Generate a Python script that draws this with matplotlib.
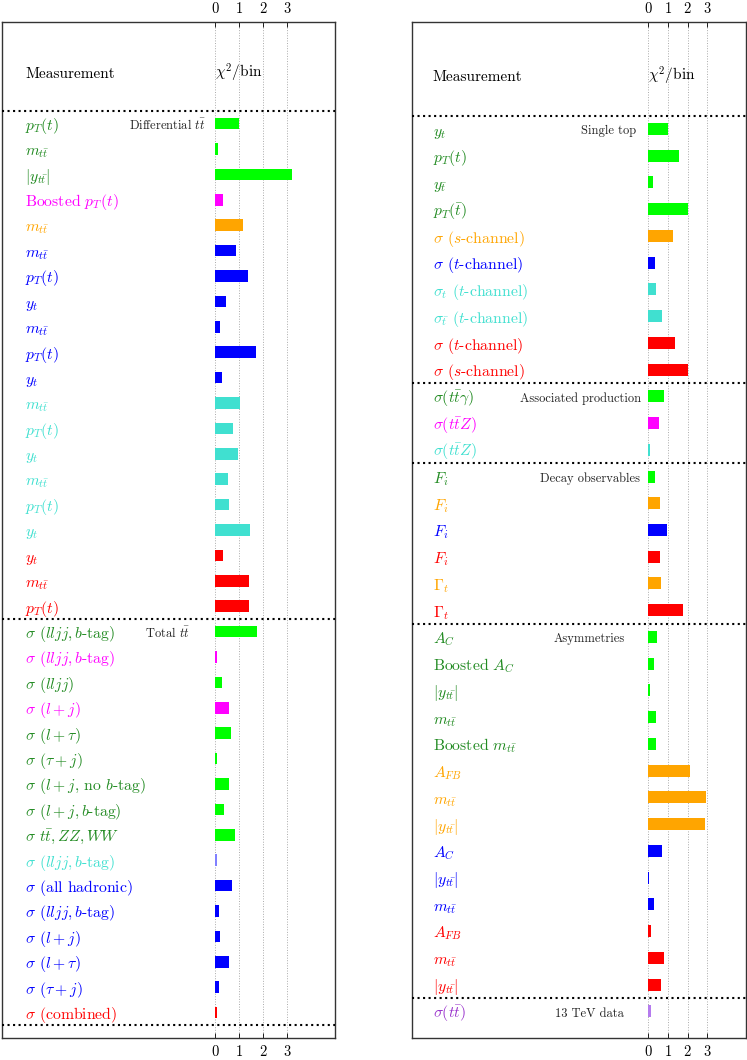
import matplotlib
matplotlib.use('Agg')
import matplotlib.pyplot as plt

plt.rcParams['font.family'] = 'serif'
plt.rcParams['font.serif'] = ['cmr10', 'DejaVu Serif']
plt.rcParams['mathtext.fontset'] = 'cm'
plt.rcParams['axes.unicode_minus'] = False
plt.rcParams['axes.formatter.use_mathtext'] = True

# label colour -> bar colour
bar_of = {'forestgreen': 'lime', 'magenta': 'magenta', 'orange': 'orange',
          'blue': 'blue', 'turquoise': 'turquoise', 'red': 'red',
          'darkorchid': '#b57bee'}

# ---- left panel data
left_labels = [r'$p_T(t)$', r'$m_{t\bar{t}}$', r'$|y_{t\bar{t}}|$', r'Boosted $p_T(t)$',
               r'$m_{t\bar{t}}$', r'$m_{t\bar{t}}$', r'$p_T(t)$', r'$y_t$',
               r'$m_{t\bar{t}}$', r'$p_T(t)$', r'$y_t$', r'$m_{t\bar{t}}$',
               r'$p_T(t)$', r'$y_t$', r'$m_{t\bar{t}}$', r'$p_T(t)$', r'$y_t$',
               r'$y_t$', r'$m_{t\bar{t}}$', r'$p_T(t)$',
               r'$\sigma$ $(lljj, b$-tag$)$', r'$\sigma$ $(lljj, b$-tag$)$', r'$\sigma$ $(lljj)$',
               r'$\sigma$ $(l+j)$', r'$\sigma$ $(l+\tau)$', r'$\sigma$ $(\tau+j)$',
               r'$\sigma$ $(l+j$, no $b$-tag$)$', r'$\sigma$ $(l+j, b$-tag$)$',
               r'$\sigma$ $t\bar{t}, ZZ, WW$', r'$\sigma$ $(lljj, b$-tag$)$',
               r'$\sigma$ (all hadronic)', r'$\sigma$ $(lljj, b$-tag$)$', r'$\sigma$ $(l+j)$',
               r'$\sigma$ $(l+\tau)$', r'$\sigma$ $(\tau+j)$', r'$\sigma$ (combined)']
left_values = [1.0, 0.1, 3.2, 0.33, 1.15, 0.87, 1.36, 0.42, 0.18, 1.71, 0.26,
               1.01, 0.72, 0.93, 0.51, 0.55, 1.46, 0.33, 1.39, 1.40,
               1.74, 0.08, 0.28, 0.58, 0.64, 0.08, 0.58, 0.37, 0.80, 0.06,
               0.71, 0.14, 0.17, 0.57, 0.14, 0.08]
left_colors = ['forestgreen'] * 3 + ['magenta', 'orange'] + ['blue'] * 6 + ['turquoise'] * 6 + ['red'] * 3 + \
              ['forestgreen', 'magenta', 'forestgreen', 'magenta'] + ['forestgreen'] * 5 + ['turquoise'] + \
              ['blue'] * 5 + ['red']
left_bars = [bar_of[c] for c in left_colors]
left_bars[29] = '#8080ff'
left_sections = [(r'Differential $t\bar{t}$', 0, -2.0), (r'Total $t\bar{t}$', 20, -2.0)]
left_seps = [-0.5, 19.5, 35.5]

# ---- right panel data
right_labels = [r'$y_t$', r'$p_T(t)$', r'$y_{\bar{t}}$', r'$p_T(\bar{t})$',
                r'$\sigma$ ($s$-channel)', r'$\sigma$ ($t$-channel)', r'$\sigma_t$ ($t$-channel)',
                r'$\sigma_{\bar{t}}$ ($t$-channel)', r'$\sigma$ ($t$-channel)', r'$\sigma$ ($s$-channel)',
                r'$\sigma(t\bar{t}\gamma)$', r'$\sigma(t\bar{t}Z)$', r'$\sigma(t\bar{t}Z)$',
                r'$F_i$', r'$F_i$', r'$F_i$', r'$F_i$', r'$\Gamma_t$', r'$\Gamma_t$',
                r'$A_C$', r'Boosted $A_C$', r'$|y_{t\bar{t}}|$', r'$m_{t\bar{t}}$', r'Boosted $m_{t\bar{t}}$',
                r'$A_{FB}$', r'$m_{t\bar{t}}$', r'$|y_{t\bar{t}}|$', r'$A_C$', r'$|y_{t\bar{t}}|$',
                r'$m_{t\bar{t}}$', r'$A_{FB}$', r'$m_{t\bar{t}}$', r'$|y_{t\bar{t}}|$', r'$\sigma(t\bar{t})$']
right_values = [1.0, 1.56, 0.24, 2.0, 1.25, 0.34, 0.39, 0.68, 1.34, 2.02,
                0.81, 0.54, 0.08, 0.34, 0.59, 0.93, 0.58, 0.66, 1.78,
                0.42, 0.27, 0.08, 0.37, 0.41, 2.14, 2.93, 2.90, 0.71, 0.05,
                0.27, 0.15, 0.78, 0.63, 0.12]
right_colors = ['forestgreen'] * 4 + ['orange', 'blue', 'turquoise', 'turquoise', 'red', 'red'] + \
               ['forestgreen', 'magenta', 'turquoise'] + \
               ['forestgreen', 'orange', 'blue', 'red', 'orange', 'red'] + \
               ['forestgreen'] * 5 + ['orange'] * 3 + ['blue'] * 3 + ['red'] * 3 + ['darkorchid']
right_bars = [bar_of[c] for c in right_colors]
right_sections = [('Single top', 0, -2.0), ('Associated production', 10, -3.46),
                  ('Decay observables', 13, -2.96), ('Asymmetries', 19, -2.98),
                  ('13 TeV data', 33, -3.0)]
right_seps = [-0.5, 9.5, 12.5, 18.5, 32.5]

fig = plt.figure(figsize=(7.47, 10.60), dpi=100)
ax_l = fig.add_axes([0.00228, 0.02075, 0.4462, 0.9585])
ax_r = fig.add_axes([0.5519, 0.02075, 0.4467, 0.9585])


def draw_panel(ax, labels, values, colors, bars, sections, seps, xlim, xlab):
    n = len(labels)
    rows = list(range(n))
    ax.barh(rows, values, height=0.45, color=bars, zorder=2)
    ax.set_xlim(*xlim)
    ax.set_ylim(n, -4)
    ax.set_yticks([])
    ax.set_xticks([0, 1, 2, 3])
    ax.tick_params(axis='x', top=True, labeltop=True, bottom=True, labelbottom=True,
                   direction='in', length=3.5, width=0.6, pad=4, labelsize=10.5)
    ax.grid(axis='x', linestyle=':', color='#aaaaaa', linewidth=0.7, zorder=0)
    ax.set_axisbelow(True)
    for s in ax.spines.values():
        s.set_linewidth(1.0)
        s.set_color('#333333')
    for i, (lab, c) in enumerate(zip(labels, colors)):
        ax.text(xlab, i + 0.25, lab, color=c, fontsize=11.3, va='baseline', ha='left')
    for name, row, xc in sections:
        ax.text(xc, row + 0.2, name, fontsize=9, va='baseline', ha='center', color='#222222')
    for y in seps:
        ax.axhline(y, color='black', linestyle=':', linewidth=1.5, zorder=3)
    ax.text(xlab, -1.8, 'Measurement', fontsize=11, va='baseline', ha='left')
    ax.text(0, -1.8, r'$\chi^2$/bin', fontsize=11, va='baseline', ha='left')


draw_panel(ax_l, left_labels, left_values, left_colors, left_bars, left_sections,
           left_seps, (-8.94, 5.0), -7.95)
draw_panel(ax_r, right_labels, right_values, right_colors, right_bars, right_sections,
           right_seps, (-11.98, 4.96), -10.94)

fig.savefig('out.png', dpi=100)
